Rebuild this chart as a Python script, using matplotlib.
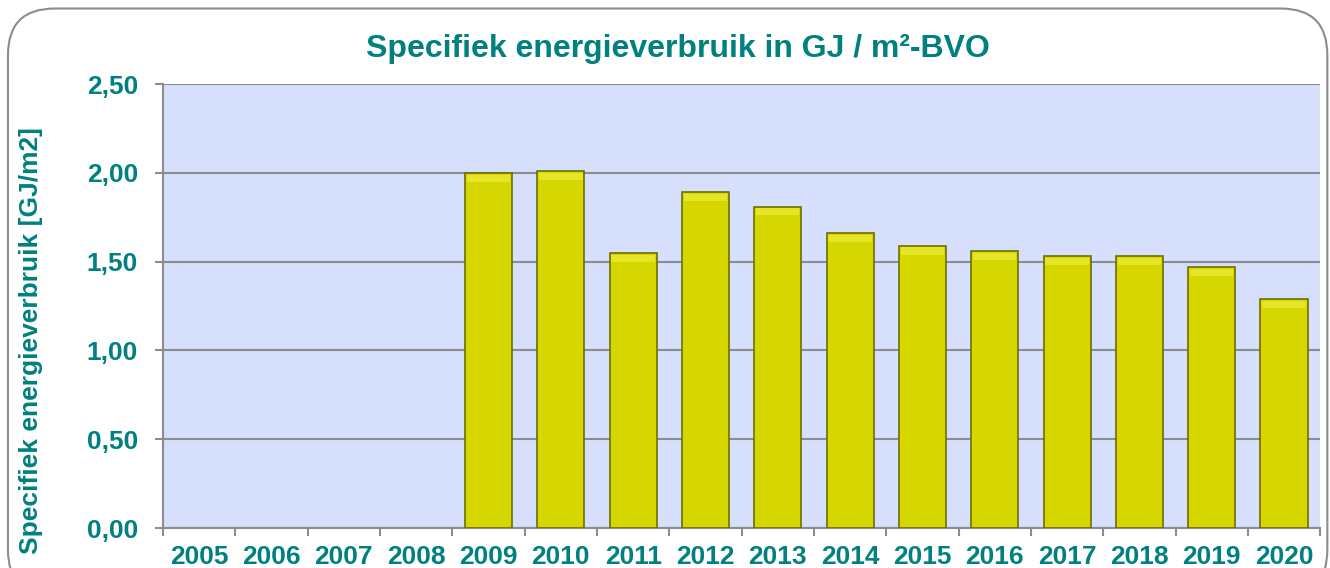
import matplotlib.pyplot as plt
from matplotlib.patches import FancyBboxPatch

# --- data ---
years = ["2005", "2006", "2007", "2008", "2009", "2010", "2011", "2012",
         "2013", "2014", "2015", "2016", "2017", "2018", "2019", "2020"]
values = [0, 0, 0, 0, 2.00, 2.01, 1.55, 1.89,
          1.81, 1.66, 1.59, 1.56, 1.53, 1.53, 1.47, 1.29]
y_ticks = [0, 0.5, 1.0, 1.5, 2.0, 2.5]
y_tick_labels = ["0,00", "0,50", "1,00", "1,50", "2,00", "2,50"]

teal = "#008080"
grey = "#8c8c8c"
plt.rcParams["font.family"] = ["Liberation Sans", "DejaVu Sans"]

fig = plt.figure(figsize=(13.3, 5.68), dpi=100)

# rounded outer frame
frame = FancyBboxPatch((0.006, -0.05), 0.992, 1.035,
                       boxstyle="round,pad=0,rounding_size=0.035",
                       transform=fig.transFigure, facecolor="none",
                       edgecolor=grey, linewidth=1.5, zorder=-1,
                       mutation_aspect=1330 / 568)
fig.patches.append(frame)

ax = fig.add_axes([0.1226, 0.0704, 0.870, 0.7817])
ax.set_facecolor("#d6dffc")

x = list(range(len(years)))
edges = ["#6e6e00" if v > 0 else "none" for v in values]
ax.bar(x, values, width=0.65, color="#d6d600", edgecolor=edges,
       linewidth=1.2, zorder=3)
# light bevel on the top of each bar
bevel = [0.04 if v > 0 else 0 for v in values]
tops = [v - b - 0.01 for v, b in zip(values, bevel)]
ax.bar(x, bevel, bottom=tops, width=0.6, color="#e6e628",
       linewidth=0, zorder=4)

ax.set_xlim(-0.5, len(years) - 0.5)
ax.set_ylim(0, 2.5)
ax.set_yticks(y_ticks)
ax.set_yticklabels(y_tick_labels)
ax.set_xticks(x)
ax.set_xticklabels(years)
ax.set_xticks([i - 0.5 for i in range(len(years) + 1)], minor=True)

ax.tick_params(axis="x", which="major", length=0, pad=12)
ax.tick_params(axis="x", which="minor", length=6, width=1.5, color=grey)
ax.tick_params(axis="y", length=6, width=1.5, color=grey, pad=12)
for lab in ax.get_xticklabels() + ax.get_yticklabels():
    lab.set_fontsize(19)
    lab.set_fontweight("bold")
    lab.set_color(teal)

ax.grid(axis="y", color=grey, linewidth=1.5, zorder=1)
ax.set_axisbelow(True)
for side in ["top", "right"]:
    ax.spines[side].set_visible(False)
for side in ["left", "bottom"]:
    ax.spines[side].set_color(grey)
    ax.spines[side].set_linewidth(1.5)

fig.text(0.51, 0.913, "Specifiek energieverbruik in GJ / m\u00b2-BVO",
         ha="center", va="center", fontsize=23, fontweight="bold", color=teal)
fig.text(0.023, 0.40, "Specifiek energieverbruik [GJ/m2]", rotation=90,
         ha="center", va="center", fontsize=19, fontweight="bold", color=teal)

fig.savefig("out.png", dpi=100)
